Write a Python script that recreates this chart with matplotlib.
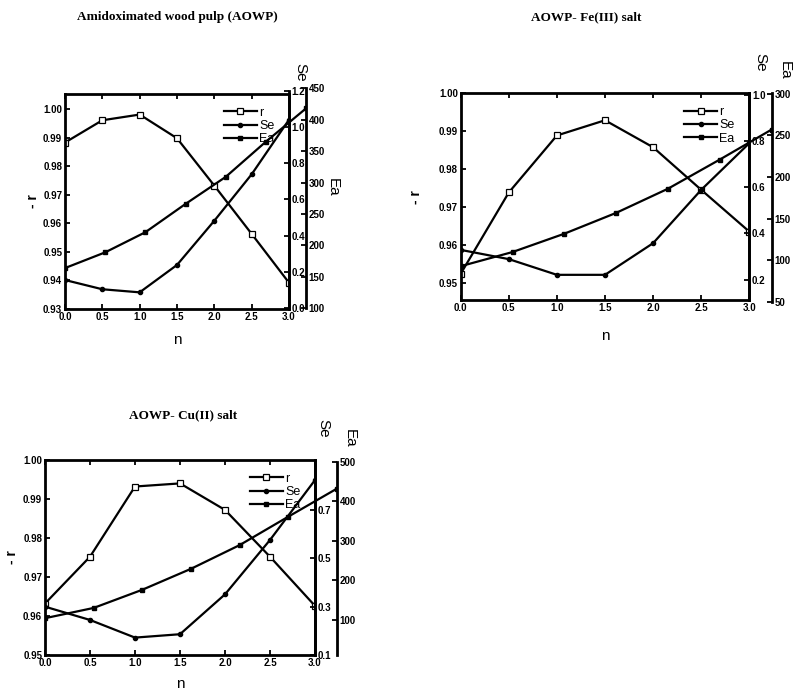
import numpy as np
import matplotlib
matplotlib.use('Agg')
from matplotlib import pyplot as plt

# reaction order n and fitted quantities for each sample
n = [0.0, 0.5, 1.0, 1.5, 2.0, 2.5, 3.0]

r_aowp = [0.9883, 0.9961, 0.9981, 0.9898, 0.9732, 0.9563, 0.9392]
se_aowp = [0.156, 0.105, 0.088, 0.239, 0.483, 0.739, 1.04]
ea_aowp = [164, 189, 221, 266, 309, 365, 418]

r_fe = [0.9525, 0.9739, 0.9889, 0.9929, 0.9858, 0.9746, 0.9636]
se_fe = [0.329, 0.289, 0.221, 0.221, 0.358, 0.589, 0.791]
ea_fe = [93, 110, 132, 157, 186, 221, 257]

r_cu = [0.9632, 0.9752, 0.9932, 0.9940, 0.9872, 0.9752, 0.9626]
se_cu = [0.300, 0.245, 0.172, 0.186, 0.351, 0.576, 0.824]
ea_cu = [104, 130, 176, 229, 289, 361, 432]

titles = ['Amidoximated wood pulp (AOWP)', 'AOWP- Fe(III) salt', 'AOWP- Cu(II) salt']

W, H = 801, 690
TICKFONT = dict(family='Liberation Sans', weight='bold', size=7)


def box(l, r, t, b):
    return [l / W, 1 - b / H, (r - l) / W, (b - t) / H]


def style_ticks(ax):
    ax.tick_params(direction='in', width=1.3, length=3.5, labelsize=7, pad=2)
    ax.tick_params(which='minor', direction='in', width=1.0, length=2)
    for lab in ax.get_xticklabels() + ax.get_yticklabels():
        lab.set_fontproperties(matplotlib.font_manager.FontProperties(**TICKFONT))


def side_axis(fig, pos, ylim, ticks, fmt):
    a = fig.add_axes(pos)
    a.patch.set_visible(False)
    for s in ['left', 'top', 'bottom']:
        a.spines[s].set_visible(False)
    a.spines['right'].set_linewidth(2.0)
    a.set_xlim(0, 3)
    a.set_xticks([])
    a.yaxis.tick_right()
    a.set_ylim(*ylim)
    a.set_yticks(ticks)
    a.set_yticklabels([fmt % t for t in ticks])
    style_ticks(a)
    return a


def panel(fig, main, se_pos, ea_pos, rlim, rticks, selim, seticks, sefmt,
          ealim, eaticks, r, se, ea, title, title_xy, rlab_x, se_xy, ea_xy, nlab_y):
    ax = fig.add_axes(box(*main))
    for s in ax.spines.values():
        s.set_linewidth(2.0)
    ax.set_xlim(0, 3)
    ax.set_ylim(*rlim)
    ax.set_xticks(np.arange(0, 3.01, 0.5))
    ax.set_xticklabels(['%.1f' % t for t in np.arange(0, 3.01, 0.5)])
    ax.set_yticks(rticks)
    ax.set_yticklabels(['%.2f' % t for t in rticks])
    ax.xaxis.set_ticks_position('both')
    style_ticks(ax)

    l1, = ax.plot(n, r, '-s', color='black', lw=1.6, ms=4, mfc='white', mew=0.9)

    axs = side_axis(fig, box(*se_pos), selim, seticks, sefmt)
    l2, = axs.plot(n, se, '-o', color='black', lw=1.6, ms=3)

    axe = side_axis(fig, box(*ea_pos), ealim, eaticks, '%d')
    l3, = axe.plot(n, ea, '-s', color='black', lw=1.6, ms=3.5)

    axe.legend([l1, l2, l3], ['r', 'Se', 'Ea'], loc='upper right', frameon=False,
               bbox_to_anchor=((main[1] - 6) / W, 1 - (main[2] + 4) / H),
               bbox_transform=fig.transFigure, handlelength=2.6,
               labelspacing=0.1, borderpad=0.2, handletextpad=0.2,
               prop=dict(family='Liberation Sans', size=9))

    fig.text(title_xy[0] / W, 1 - title_xy[1] / H, title, ha='center', va='center',
             family='Liberation Serif', weight='bold', size=9.5)
    fig.text(rlab_x / W, 1 - (main[2] + main[3]) / 2 / H, '- r', rotation=90,
             ha='center', va='center', family='Liberation Sans', weight='bold', size=10)
    fig.text(se_xy[0] / W, 1 - se_xy[1] / H, 'Se', rotation=270,
             ha='center', va='center', family='Liberation Sans', size=11)
    fig.text(ea_xy[0] / W, 1 - ea_xy[1] / H, 'Ea', rotation=270,
             ha='center', va='center', family='Liberation Sans', size=11)
    fig.text((main[0] + main[1]) / 2 / W, 1 - nlab_y / H, 'n',
             ha='center', va='center', family='Liberation Sans', size=11)


fig = plt.figure(figsize=(W / 100, H / 100), dpi=100)

panel(fig, (65, 289, 94, 309), (65, 289, 90.7, 308.3), (65, 306, 88.3, 308.3),
      (0.93, 1.0053), np.arange(0.93, 1.001, 0.01), (0, 1.2), np.arange(0, 1.21, 0.2), '%.1f',
      (100, 450), np.arange(100, 451, 50), r_aowp, se_aowp, ea_aowp,
      titles[0], (177, 17), 33, (300, 72), (333, 187), 340)

panel(fig, (460.7, 749.3, 93.3, 300), (460.7, 749.3, 93.3, 300), (460.7, 771.5, 93, 302),
      (0.9456, 1.0), np.arange(0.95, 1.001, 0.01), (0.112, 1.007), np.arange(0.2, 1.01, 0.2), '%.1f',
      (51, 301), np.arange(50, 301, 50), r_fe, se_fe, ea_fe,
      titles[1], (586, 17), 416, (760, 62), (785, 70), 336)

panel(fig, (45, 315, 460, 655), (45, 315, 460, 655), (45, 337, 461.7, 655),
      (0.95, 1.0), np.arange(0.95, 1.001, 0.01), (0.1, 0.907), np.arange(0.1, 0.8, 0.2), '%.1f',
      (10.9, 500), np.arange(100, 501, 100), r_cu, se_cu, ea_cu,
      titles[2], (183, 415), 12, (323, 428), (350, 438), 684)

fig.savefig('out.png', dpi=100)
